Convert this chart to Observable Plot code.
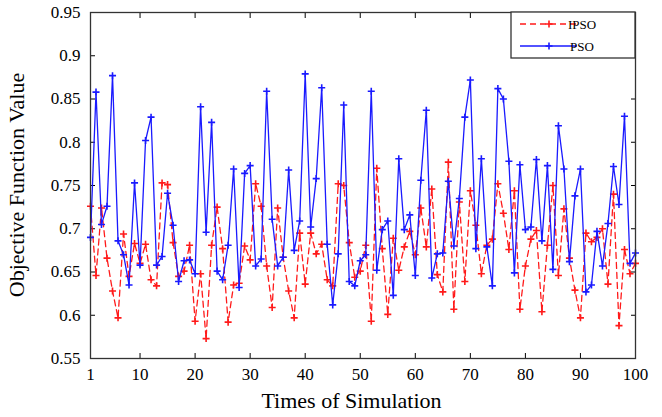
<!DOCTYPE html>
<html><head><meta charset="utf-8">
<script src="https://cdn.jsdelivr.net/npm/d3@7"></script>
<script src="https://cdn.jsdelivr.net/npm/@observablehq/plot@0.6"></script>
<style>body{margin:0;background:#fff}</style>
</head><body><div id="chart"></div>
<script>
const simulations = d3.range(1, 101);
const ipso = [
0.726,0.646,0.724,0.666,0.628,0.597,0.694,0.645,0.683,0.660,
0.682,0.641,0.634,0.753,0.751,0.684,0.645,0.651,0.681,0.593,
0.648,0.573,0.681,0.725,0.677,0.592,0.635,0.637,0.680,0.664,
0.752,0.726,0.657,0.609,0.724,0.667,0.628,0.597,0.695,0.636,
0.695,0.671,0.682,0.641,0.634,0.752,0.750,0.684,0.644,0.651,
0.681,0.593,0.770,0.677,0.601,0.689,0.652,0.679,0.697,0.670,
0.724,0.679,0.746,0.647,0.627,0.777,0.607,0.731,0.639,0.744,
0.704,0.648,0.681,0.688,0.752,0.718,0.676,0.744,0.607,0.657,
0.688,0.698,0.604,0.681,0.750,0.646,0.723,0.666,0.629,0.597,
0.695,0.685,0.690,0.700,0.636,0.740,0.588,0.676,0.648,0.660];
const pso = [
0.690,0.858,0.705,0.726,0.877,0.686,0.670,0.635,0.753,0.658,
0.802,0.829,0.658,0.668,0.741,0.704,0.639,0.663,0.664,0.648,
0.841,0.696,0.823,0.651,0.641,0.681,0.769,0.632,0.764,0.773,
0.657,0.665,0.859,0.711,0.657,0.667,0.768,0.675,0.709,0.879,
0.702,0.758,0.863,0.682,0.612,0.671,0.843,0.639,0.634,0.663,
0.670,0.859,0.652,0.699,0.709,0.623,0.781,0.699,0.716,0.646,
0.756,0.837,0.643,0.671,0.672,0.755,0.680,0.735,0.829,0.872,
0.677,0.781,0.679,0.634,0.862,0.850,0.778,0.649,0.774,0.699,
0.702,0.780,0.686,0.773,0.653,0.819,0.769,0.662,0.738,0.769,
0.627,0.635,0.697,0.657,0.706,0.772,0.728,0.830,0.660,0.672];
const xTicks = [1,10,20,30,40,50,60,70,80,90,100];
const yTicks = [0.55,0.6,0.65,0.7,0.75,0.8,0.85,0.9,0.95];
const seriesNames = ["IPSO","PSO"];
const seriesColors = ["#ff1a1a","#1a1aff"];
const seriesDash = ["6,4", null];
const xTitle = "Times of Simulation";
const yTitle = "Objective Function Value";

(function () {
const fmt = d => String(+d.toFixed(2));
const font = "'Liberation Serif', 'Times New Roman', serif";
const series = [ipso, pso];

const seriesMarks = series.flatMap((vals, k) => [
  Plot.line(simulations, {x: d => d, y: (d, i) => vals[i], stroke: seriesColors[k], strokeWidth: 1.3, strokeDasharray: seriesDash[k]}),
  Plot.dot(simulations, {x: d => d, y: (d, i) => vals[i], symbol: "plus", r: 2.4, stroke: seriesColors[k], strokeWidth: 1.6})
]);

const chart = Plot.plot({
  width: 662, height: 417,
  marginLeft: 90, marginRight: 27, marginTop: 12, marginBottom: 59,
  style: {fontFamily: font, fontSize: "17px", color: "black", background: "white"},
  x: {domain: [1, 100]},
  y: {domain: [0.55, 0.95]},
  marks: [
    Plot.axisX({ticks: xTicks, tickSize: 0, tickPadding: 9, tickFormat: d => String(d), label: null}),
    Plot.axisX({ticks: xTicks, tickSize: -5, fill: "none", label: null}),
    Plot.axisX({anchor: "top", ticks: xTicks, tickSize: -5, fill: "none", label: null}),
    Plot.axisY({ticks: yTicks, tickSize: 0, tickPadding: 10, tickFormat: fmt, label: null}),
    Plot.axisY({ticks: yTicks, tickSize: -5, fill: "none", label: null}),
    Plot.axisY({anchor: "right", ticks: yTicks, tickSize: -5, fill: "none", label: null}),
    ...seriesMarks,
    Plot.frame({stroke: "#333", strokeWidth: 1.3})
  ]
});
document.getElementById("chart").appendChild(chart);

const sx = chart.scale("x"), sy = chart.scale("y");
const pLeft = sx.apply(1), pRight = sx.apply(100), pTop = sy.apply(0.95), pBottom = sy.apply(0.55);
const svg = d3.select(chart);

svg.append("text").attr("x", (pLeft + pRight) / 2 - 11).attr("y", pBottom + 50)
  .attr("text-anchor", "middle").attr("font-family", font).attr("font-size", 22).attr("fill", "black")
  .text(xTitle);
svg.append("text").attr("transform", `translate(${pLeft - 66},${(pTop + pBottom) / 2}) rotate(-90)`)
  .attr("text-anchor", "middle").attr("font-family", font).attr("font-size", 22).attr("fill", "black")
  .text(yTitle);

// legend
const lw = 124, lh = 46;
const lg = svg.append("g").attr("transform", `translate(${pRight - lw},${pTop})`);
lg.append("rect").attr("width", lw).attr("height", lh).attr("fill", "white").attr("stroke", "#333").attr("stroke-width", 1.3);
seriesNames.forEach((name, k) => {
  const yy = 12 + k * 22;
  lg.append("line").attr("x1", 9).attr("x2", 66).attr("y1", yy).attr("y2", yy)
    .attr("stroke", seriesColors[k]).attr("stroke-width", 1.3).attr("stroke-dasharray", seriesDash[k]);
  lg.append("path").attr("transform", `translate(38,${yy})`)
    .attr("d", d3.symbol(d3.symbolPlus, 2.4 * 2.4 * Math.PI)())
    .attr("fill", "none").attr("stroke", seriesColors[k]).attr("stroke-width", 1.6);
  lg.append("text").attr("x", 71).attr("y", yy).attr("dy", "0.35em")
    .attr("font-family", font).attr("font-size", 13).attr("fill", "black").text(name);
});
})();
</script>
</body></html>
